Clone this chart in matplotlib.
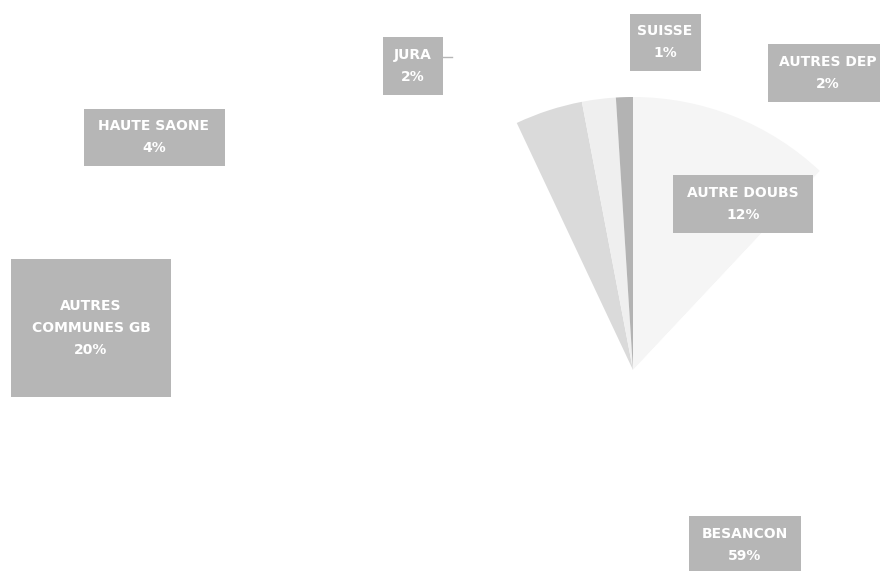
import matplotlib.pyplot as plt
from matplotlib.patches import Rectangle

# --- Data (Excel-like order, clockwise from 12 o'clock) ---
labels = ["AUTRE DOUBS", "AUTRES DEP", "BESANCON", "AUTRES\nCOMMUNES GB",
          "HAUTE SAONE", "JURA", "SUISSE"]
shares = [12, 2, 59, 20, 4, 2, 1]
colors = ["#f5f5f5", "#ffffff", "#ffffff", "#ffffff", "#dadada", "#efefef", "#b3b3b3"]

# label layout in pixel coords (x, y from top) and box sizes (w, h)
label_pos = [(743, 204), (828, 73), (745, 545), (91, 328), (154, 137), (413, 66), (665, 42)]
box_size = [140, 58, 120, 58, 112, 58, 160, 138, 141, 57, 60, 58, 71, 57]

W, H = 880, 571
fig = plt.figure(figsize=(W / 100, H / 100), dpi=100)
ax = fig.add_axes([0, 0, 1, 1])

ax.pie(shares, colors=colors, startangle=90, counterclock=False,
       center=(633, H - 370), radius=273, frame=False,
       wedgeprops=dict(linewidth=0))
ax.set_xlim(0, W)
ax.set_ylim(0, H)
ax.set_aspect("equal")
ax.axis("off")

for i, (lab, val) in enumerate(zip(labels, shares)):
    x, y = label_pos[i]
    bw, bh = box_size[2 * i], box_size[2 * i + 1]
    ax.add_patch(Rectangle((x - bw / 2, H - y - bh / 2), bw, bh,
                           facecolor="#b6b6b6", edgecolor="none", zorder=3))
    ax.text(x, H - y, f"{lab}\n{val}%", ha="center", va="center",
            color="white", fontsize=10, fontweight="bold",
            family="DejaVu Sans", linespacing=1.7, zorder=4, clip_on=True)

# small leader line on JURA
ax.plot([443, 452], [H - 57, H - 57], color="#b6b6b6", lw=1, zorder=2)

fig.savefig("out.png", dpi=100)
